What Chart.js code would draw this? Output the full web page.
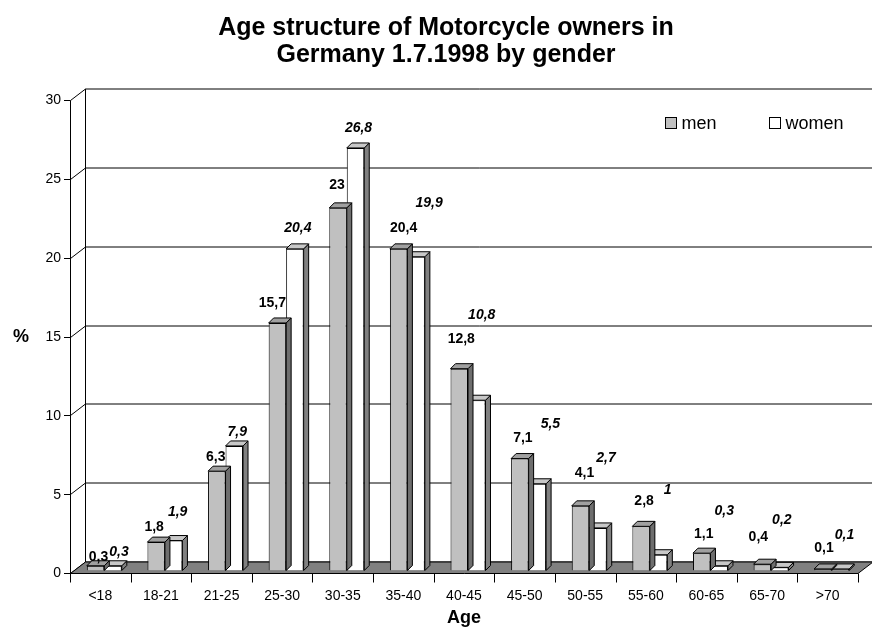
<!DOCTYPE html>
<html>
<head>
<meta charset="utf-8">
<script src="https://cdn.jsdelivr.net/npm/chart.js@4/dist/chart.umd.min.js"></script>
<style>
  html,body{margin:0;padding:0;background:#fff;}
  #wrap{width:872px;height:630px;}
</style>
</head>
<body>
<div id="wrap"><canvas id="ageChart" width="872" height="630"></canvas></div>
<script>
/* global Chart */

const ageGroups = ['<18','18-21','21-25','25-30','30-35','35-40','40-45','45-50','50-55','55-60','60-65','65-70','>70'];
const menShare = [0.3,1.8,6.3,15.7,23,20.4,12.8,7.1,4.1,2.8,1.1,0.4,0.1];
const womenShare = [0.3,1.9,7.9,20.4,26.8,19.9,10.8,5.5,2.7,1,0.3,0.2,0.1];
const yTicks = [0,5,10,15,20,25,30];

// pixel nudges for the value labels (Excel puts them a bit everywhere in 3D)
const menNudge = [[3,-9],[-2,-15],[-1,-14],[-5,-20],[-1,-23],[5,-21],[2,-30],[3,-20],[4,-33],[3,-25],[2,-19],[-4,-27],[1,-21]];
const womenNudge = [[6,-14],[4,-28],[3,-14],[3,-21],[3,-20],[13,-54],[5,-85],[13,-60],[8,-70],[9,-65],[5,-55],[2,-47],[4,-34]];

const FONT = "'Liberation Sans', Arial, sans-serif";
const WALL_X = 15, WALL_Y = -11.5;   // back wall offset
const BAR_TX = 4, BAR_TY = -2.5;     // bars stand a bit inside the floor
const DEPTH_X = 5, DEPTH_Y = -5;     // bar depth
const faceColors = [
  {top:'#a0a0a0', side:'#6e6e6e'},
  {top:'#c8c8c8', side:'#808080'}
];

const fmt = v => String(v).replace('.', ',');

function poly(ctx, pts, fill) {
  ctx.beginPath();
  ctx.moveTo(pts[0][0], pts[0][1]);
  for (let i = 1; i < pts.length; i++) ctx.lineTo(pts[i][0], pts[i][1]);
  ctx.closePath();
  ctx.fillStyle = fill;
  ctx.fill();
  ctx.stroke();
}

const threeD = {
  id: 'threeD',
  beforeDatasetsDraw(chart) {
    const ctx = chart.ctx;
    const {left, right, bottom, top} = chart.chartArea;
    const y = chart.scales.y;
    ctx.save();
    ctx.strokeStyle = '#000';
    ctx.lineWidth = 1;
    // back wall grid + diagonals + front ticks
    for (const t of yTicks) {
      const py = Math.round(y.getPixelForValue(t)) + 0.5;
      ctx.beginPath();
      ctx.moveTo(left - 6, py);
      ctx.lineTo(left + 0.5, py);
      ctx.lineTo(left + 0.5 + WALL_X, py + WALL_Y);
      ctx.lineTo(right + WALL_X + 2, py + WALL_Y);
      ctx.stroke();
    }
    ctx.beginPath();
    ctx.moveTo(left + 0.5 + WALL_X, Math.round(top) + 0.5 + WALL_Y);
    ctx.lineTo(left + 0.5 + WALL_X, Math.round(bottom) + 0.5 + WALL_Y);
    ctx.stroke();
    // floor
    const b = Math.round(bottom) + 0.5;
    poly(ctx, [[left + 0.5, b], [right, b], [right + WALL_X, b + WALL_Y], [left + 0.5 + WALL_X, b + WALL_Y]], '#808080');
    // front axes
    ctx.beginPath();
    ctx.moveTo(left + 0.5, Math.round(top) + 0.5);
    ctx.lineTo(left + 0.5, b + 9);
    ctx.stroke();
    const w = (right - left) / ageGroups.length;
    for (let i = 1; i <= ageGroups.length; i++) {
      const px = Math.round(left + i * w) + 0.5;
      ctx.beginPath();
      ctx.moveTo(px, b);
      ctx.lineTo(px, b + 9);
      ctx.stroke();
    }
    ctx.restore();
    ctx.save();
    ctx.translate(BAR_TX, BAR_TY);
  },
  afterDatasetDraw(chart, args) {
    const ctx = chart.ctx;
    const col = faceColors[args.index];
    ctx.save();
    ctx.strokeStyle = '#000';
    ctx.lineWidth = 1;
    for (const bar of args.meta.data) {
      const l = bar.x - bar.width / 2, r = bar.x + bar.width / 2;
      poly(ctx, [[r, bar.y], [r + DEPTH_X, bar.y + DEPTH_Y], [r + DEPTH_X, bar.base + DEPTH_Y], [r, bar.base]], col.side);
      poly(ctx, [[l, bar.y], [r, bar.y], [r + DEPTH_X, bar.y + DEPTH_Y], [l + DEPTH_X, bar.y + DEPTH_Y]], col.top);
    }
    ctx.restore();
  },
  afterDatasetsDraw(chart) {
    chart.ctx.restore();
  },
  afterDraw(chart) {
    const ctx = chart.ctx;
    const {left, right, bottom} = chart.chartArea;
    const y = chart.scales.y;
    const x = chart.scales.x;
    ctx.save();
    ctx.fillStyle = '#000';

    // value labels
    ctx.textAlign = 'center';
    ctx.textBaseline = 'middle';
    const nudges = [menNudge, womenNudge];
    chart.data.datasets.forEach((ds, di) => {
      ctx.font = (di === 1 ? 'italic ' : '') + 'bold 14px ' + FONT;
      chart.getDatasetMeta(di).data.forEach((bar, i) => {
        const [dx, dy] = nudges[di][i];
        ctx.fillText(fmt(ds.data[i]), bar.x + BAR_TX + dx, bar.y + BAR_TY + dy);
      });
    });

    // y tick labels
    ctx.font = '14px ' + FONT;
    ctx.textAlign = 'right';
    for (const t of yTicks) ctx.fillText(String(t), left - 9, y.getPixelForValue(t) + 0.5);

    // x tick labels
    ctx.textAlign = 'center';
    ageGroups.forEach((g, i) => ctx.fillText(g, x.getPixelForValue(i), bottom + 23));

    // axis titles
    ctx.font = 'bold 18px ' + FONT;
    ctx.fillText('Age', (left + right) / 2, bottom + 45);
    ctx.fillText('%', 21, 337);

    // title
    ctx.textBaseline = 'alphabetic';
    ctx.font = 'bold 25px ' + FONT;
    ctx.fillText('Age structure of Motorcycle owners in', 446, 34.5);
    ctx.fillText('Germany 1.7.1998 by gender', 446, 61.5);

    // legend
    ctx.font = '18px ' + FONT;
    ctx.textAlign = 'left';
    ctx.strokeStyle = '#000';
    ctx.lineWidth = 1;
    chart.data.datasets.forEach((ds, di) => {
      const lx = di === 0 ? 665.5 : 769.5;
      ctx.fillStyle = ds.backgroundColor;
      ctx.fillRect(lx, 117.5, 11, 11);
      ctx.strokeRect(lx, 117.5, 11, 11);
      ctx.fillStyle = '#000';
      ctx.fillText(ds.label, lx + 16, 129);
    });
    ctx.restore();
  }
};

new Chart(document.getElementById('ageChart'), {
  type: 'bar',
  data: {
    labels: ageGroups,
    datasets: [
      {label: 'men', data: menShare, backgroundColor: '#c0c0c0', borderColor: '#000', borderWidth: 1},
      {label: 'women', data: womenShare, backgroundColor: '#ffffff', borderColor: '#000', borderWidth: 1}
    ]
  },
  options: {
    responsive: false,
    animation: false,
    devicePixelRatio: 1,
    layout: {padding: {left: 70, right: 14, top: 100, bottom: 57}},
    categoryPercentage: 0.577,
    barPercentage: 1.0,
    scales: {
      x: {display: false},
      y: {display: false, min: 0, max: 30}
    },
    plugins: {
      legend: {display: false},
      title: {display: false},
      tooltip: {enabled: false}
    }
  },
  plugins: [threeD]
});
</script>
</body>
</html>
